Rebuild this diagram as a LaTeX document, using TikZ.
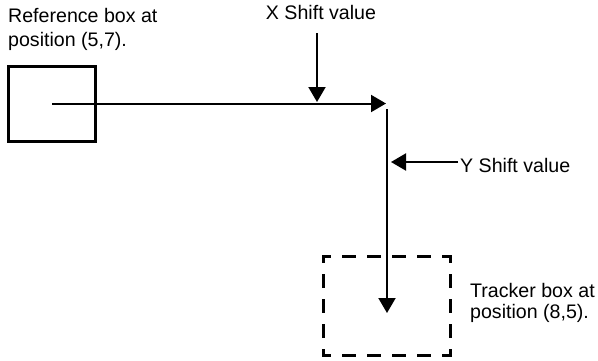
\documentclass[tikz,border=0pt]{standalone}
\usepackage{fontspec}
\setmainfont{Liberation Sans}
\usetikzlibrary{arrows.meta}
\begin{document}
\begin{tikzpicture}[x=1pt,y=-1pt,
  lbl/.style={inner sep=0pt,align=left,anchor=north west},
  arr/.style={line width=2pt,-{Triangle[length=15pt,width=17pt]}},
  refbox/.style={draw,line width=3pt,minimum width=87pt,minimum height=75pt,inner sep=0pt},
  trkbox/.style={minimum width=127pt,minimum height=99pt,inner sep=0pt},
  dashline/.style={line width=3pt,line cap=rect,dash pattern=on 11pt off 14pt}]
\useasboundingbox (0,0) rectangle (598,360);
\node[refbox] (ref) at (52,103.5) {};
\node[trkbox] (trk) at (387,306) {};
\draw[dashline,dash phase=4.5pt] (trk.north west) -- (trk.north east);
\draw[dashline,dash phase=4.5pt] (trk.south west) -- (trk.south east);
\draw[dashline,dash phase=6pt] (trk.north west) -- (trk.south west);
\draw[dashline,dash phase=6pt] (trk.north east) -- (trk.south east);
\node[lbl,font=\fontsize{19.6}{24}\selectfont] (reft) at (8,8.5) {Reference box at\\position (5,7).};
\node[inner sep=0pt,anchor=base,font=\fontsize{19.6}{24}\selectfont] (xt) at (321,19.5) {X Shift value};
\node[inner sep=0pt,anchor=base west,font=\fontsize{19.6}{24}\selectfont] (yt) at (460,172) {Y Shift value};
\node[lbl,font=\fontsize{19.6}{21}\selectfont] (trkt) at (470,283) {Tracker box at\\position (8,5).};
\coordinate (hend) at (386,103.5);
\coordinate (xs) at (317,33);
\coordinate (xe) at (317,102);
\coordinate (vs) at (387,109);
\coordinate (ve) at (387,313);
\coordinate (ys) at (458,162);
\coordinate (ye) at (391,162);
\draw[arr] (ref.center) -- (hend);
\draw[arr] (xs) -- (xe);
\draw[arr] (vs) -- (ve);
\draw[arr] (ys) -- (ye);
\end{tikzpicture}
\end{document}
